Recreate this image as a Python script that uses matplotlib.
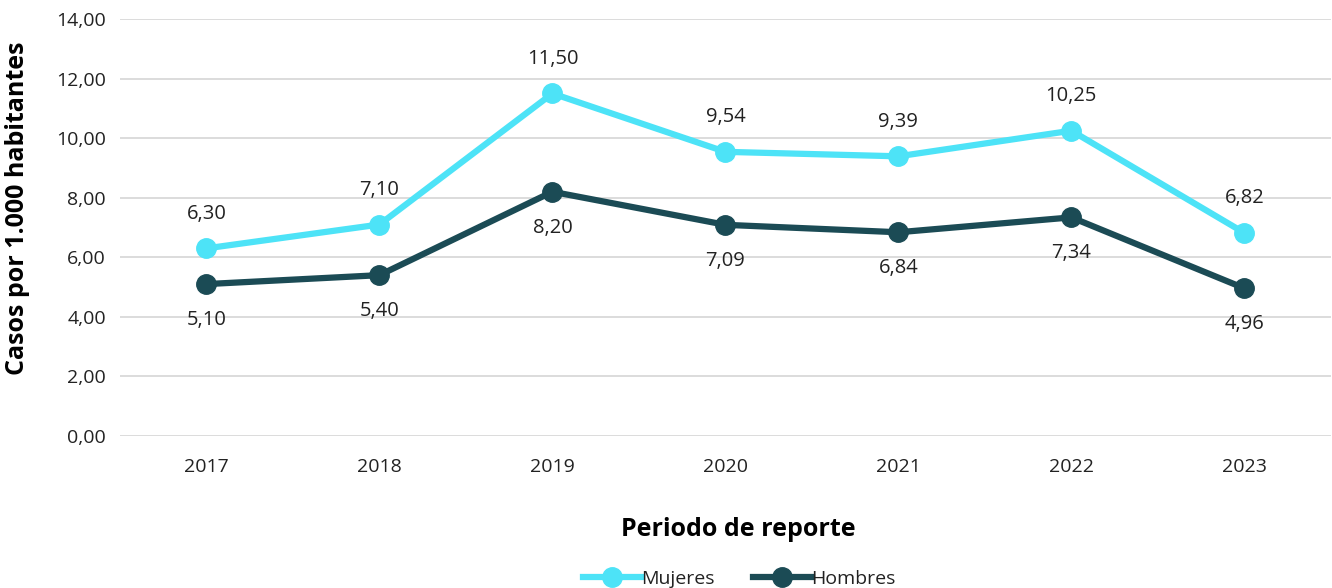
import matplotlib.pyplot as plt
from matplotlib.ticker import FuncFormatter

years = ['2017', '2018', '2019', '2020', '2021', '2022', '2023']
mujeres = [6.30, 7.10, 11.50, 9.54, 9.39, 10.25, 6.82]
hombres = [5.10, 5.40, 8.20, 7.09, 6.84, 7.34, 4.96]

col_m = '#4DE3F7'
col_h = '#1B4B55'
txt = '#222222'

plt.rcParams['font.family'] = ['Open Sans', 'DejaVu Sans']

fig = plt.figure(figsize=(13.32, 5.88), dpi=100)
ax = fig.add_axes([0.0901, 0.2585, 0.909, 0.7092])

x = list(range(len(years)))
ax.plot(x, mujeres, color=col_m, lw=4.5, marker='o', ms=14, label='Mujeres', zorder=3)
ax.plot(x, hombres, color=col_h, lw=4.5, marker='o', ms=14, label='Hombres', zorder=3)


def fmt(v):
    return f'{v:.2f}'.replace('.', ',')


for i in x:
    ax.annotate(fmt(mujeres[i]), (i, mujeres[i]), xytext=(0, 25), textcoords='offset points',
                ha='center', va='center', fontsize=14.5, color=txt)
    ax.annotate(fmt(hombres[i]), (i, hombres[i]), xytext=(0, -26), textcoords='offset points',
                ha='center', va='center', fontsize=14.5, color=txt)

ax.set_xlim(-0.5, len(years) - 0.5)
ax.set_ylim(0, 14)
ax.set_yticks(range(0, 15, 2))
ax.yaxis.set_major_formatter(FuncFormatter(lambda v, p: fmt(v)))
ax.set_xticks(x)
ax.set_xticklabels(years)
ax.tick_params(axis='both', length=0, labelsize=14, labelcolor=txt)
ax.tick_params(axis='y', pad=10)
ax.tick_params(axis='x', pad=16)
ax.grid(axis='y', color='#D9D9D9', lw=1.3)
ax.set_axisbelow(True)
for s in ax.spines.values():
    s.set_visible(False)

ax.set_ylabel('Casos por 1.000 habitantes', fontsize=18, fontweight='bold', color='black')
ax.yaxis.set_label_coords(-0.074, 0.545)
ax.set_xlabel('Periodo de reporte', fontsize=18, fontweight='bold', color='black')
ax.xaxis.set_label_coords(0.511, -0.194)

fig.legend(loc='center', bbox_to_anchor=(0.555, 0.016), ncol=2, frameon=False, fontsize=14,
           handlelength=3.0, handletextpad=0.0, columnspacing=2.0, labelcolor=txt)

fig.savefig('out.png', dpi=100)
